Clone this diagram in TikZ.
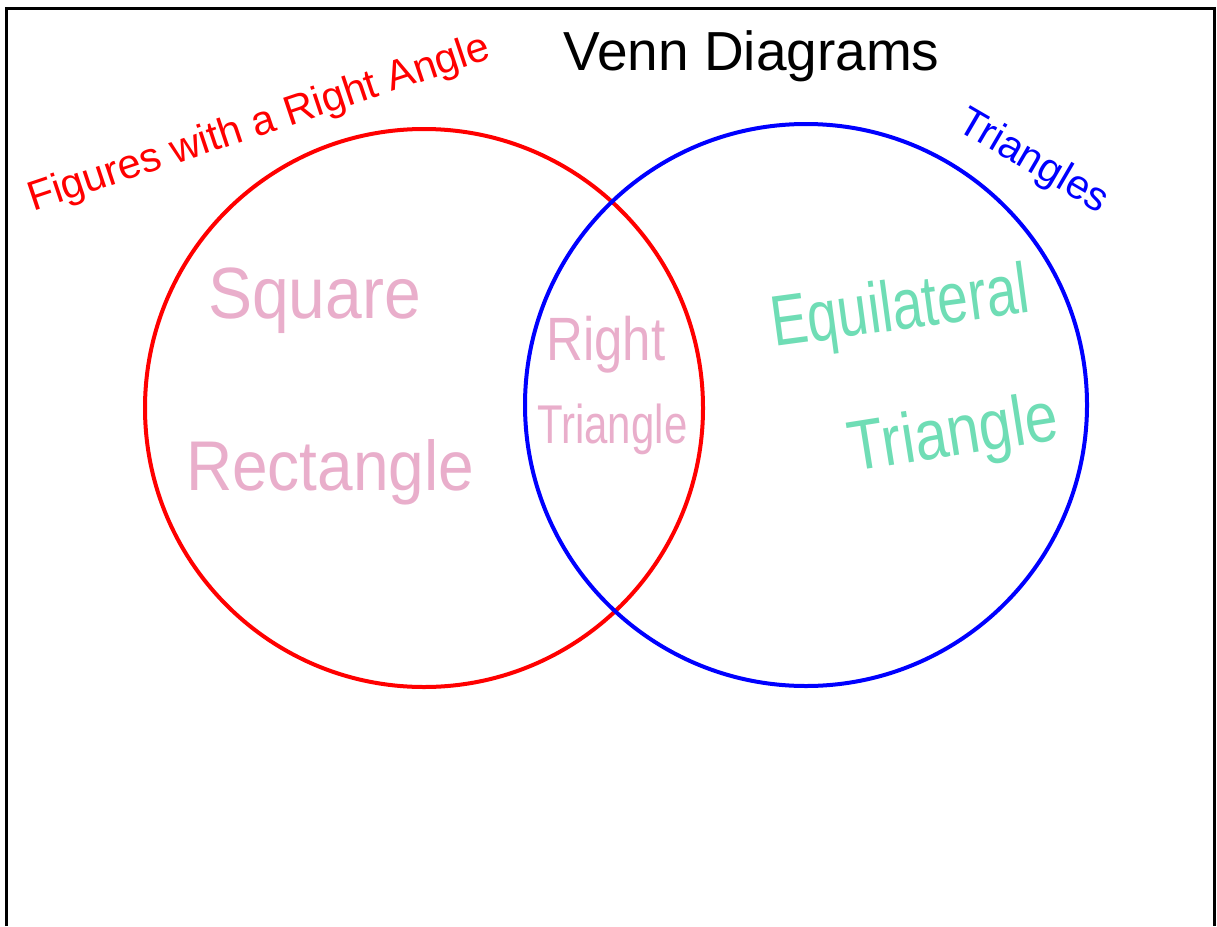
\documentclass[tikz,border=0pt]{standalone}
\usepackage{fontspec}
\setmainfont{Liberation Sans}
\usepackage{graphicx}
\definecolor{pinkhand}{HTML}{E9AECB}
\definecolor{greenhand}{HTML}{6FDDB5}
\definecolor{setred}{RGB}{255,0,0}
\definecolor{setblue}{RGB}{0,0,255}
\begin{document}
\begin{tikzpicture}[x=1pt,y=-1pt,
  frameline/.style={line width=3pt, black, line join=miter},
  setcircle/.style={circle, draw, line width=4pt, minimum size=#1, inner sep=0pt},
  setlabel/.style={anchor=base west, inner sep=0pt},
  hand/.style={anchor=base west, inner sep=0pt}]
\useasboundingbox (0,0) rectangle (1217,926);
\draw[frameline] (6,926) -- (6,8) -- (1214,8) -- (1214,926);
% circles
\node[setcircle=558, draw=setred] (A) at (424,408) {};
\node[setcircle=562, draw=setblue] (B) at (806,405) {};
% title
\node[anchor=base, inner sep=0pt] (title) at (751.5,70) {\fontsize{55}{60}\selectfont Venn Diagrams};
% set labels
\node[setlabel, rotate=18.5, text=setred] (Alab) at (33,212) {\fontsize{41.5}{45}\selectfont Figures with a Right Angle};
\node[setlabel, rotate=-30.3, text=setblue] (Blab) at (955,129) {\fontsize{41}{45}\selectfont Triangles};
% handwritten entries
\node[hand, text=pinkhand] (sq) at (208,318) {\scalebox{1}[1.1]{\fontsize{66}{70}\selectfont Square}};
\node[hand, text=pinkhand] (rect) at (186,490) {\scalebox{1}[1.1]{\fontsize{64}{70}\selectfont Rectangle}};
\node[hand, text=pinkhand] (right) at (546,360) {\scalebox{1}[1.2]{\fontsize{51}{55}\selectfont Right}};
\node[hand, text=pinkhand] (rtri) at (537,443) {\scalebox{1}[1.3]{\fontsize{42}{46}\selectfont Triangle}};
\node[hand, text=greenhand, rotate=7.7] (equi) at (774,347) {\scalebox{1}[1.3]{\fontsize{55}{60}\selectfont Equilateral}};
\node[hand, text=greenhand, rotate=9] (etri) at (852,472) {\scalebox{1}[1.2]{\fontsize{59}{64}\selectfont Triangle}};
\end{tikzpicture}
\end{document}
